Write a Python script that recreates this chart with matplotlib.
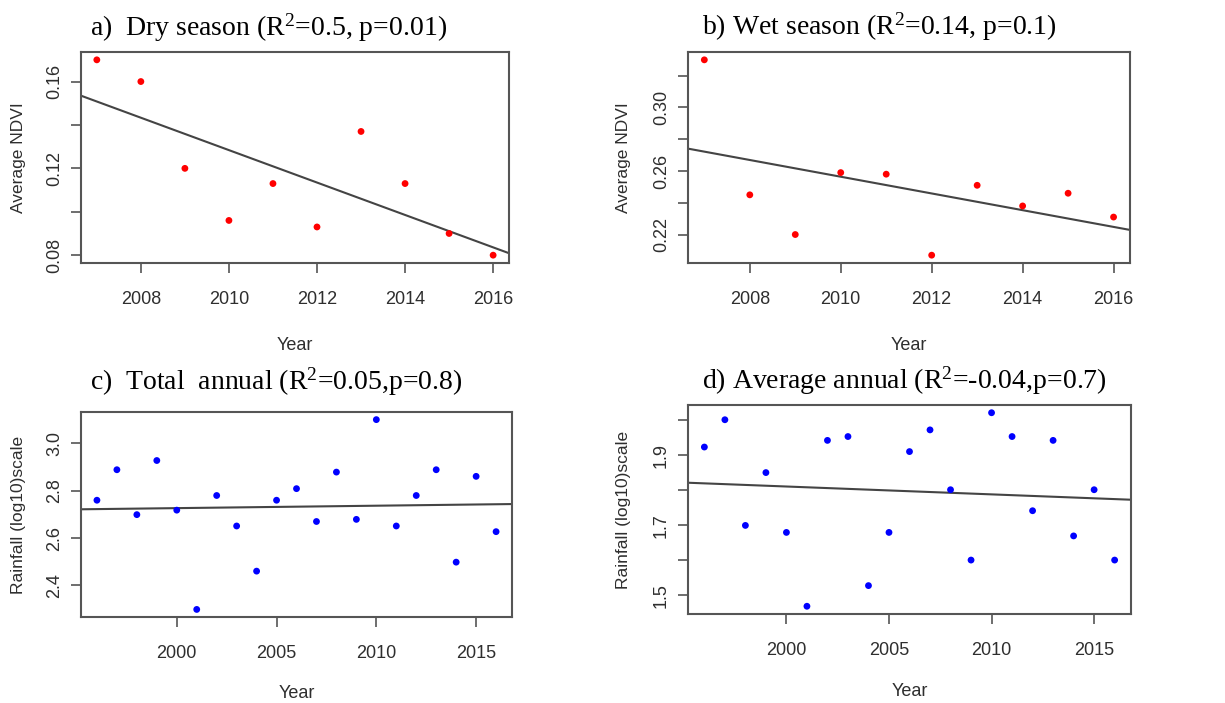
import matplotlib
matplotlib.use('Agg')
import matplotlib.pyplot as plt
import numpy as np

plt.rcParams['mathtext.fontset'] = 'custom'
plt.rcParams['mathtext.rm'] = 'Liberation Serif'
plt.rcParams['mathtext.it'] = 'Liberation Serif'

# NDVI, dry and wet season
ndvi_years = [2007, 2008, 2009, 2010, 2011, 2012, 2013, 2014, 2015, 2016]
ndvi_dry = [0.170, 0.160, 0.120, 0.096, 0.113, 0.093, 0.137, 0.113, 0.090, 0.080]
ndvi_wet = [0.330, 0.245, 0.220, 0.259, 0.258, 0.207, 0.251, 0.238, 0.246, 0.231]

# rainfall, log10 scale
rain_years = list(range(1996, 2017))
rain_total = [2.760, 2.889, 2.699, 2.928, 2.718, 2.298, 2.780, 2.651, 2.460, 2.760,
              2.809, 2.670, 2.879, 2.679, 3.101, 2.651, 2.780, 2.889, 2.498, 2.861, 2.627]
rain_avg = [1.924, 2.002, 1.700, 1.851, 1.680, 1.469, 1.943, 1.954, 1.528, 1.680,
            1.911, 1.973, 1.802, 1.601, 2.022, 1.954, 1.742, 1.943, 1.670, 1.802, 1.601]

titles = [r'a)  Dry season (R$^{2}$=0.5, p=0.01)',
          r'b) Wet season (R$^{2}$=0.14, p=0.1)',
          r'c)  Total  annual (R$^{2}$=0.05,p=0.8)',
          r'd) Average annual (R$^{2}$=-0.04,p=0.7)']
ylabels = ['Average NDVI', 'Average NDVI', 'Rainfall (log10)scale', 'Rainfall (log10)scale']

yticks_a = [0.08, 0.10, 0.12, 0.14, 0.16]
ylabs_a = ['0.08', '', '0.12', '', '0.16']
yticks_b = [0.22, 0.24, 0.26, 0.28, 0.30, 0.32]
ylabs_b = ['0.22', '', '0.26', '', '0.30', '']
yticks_c = [2.4, 2.6, 2.8, 3.0]
ylabs_c = ['2.4', '2.6', '2.8', '3.0']
yticks_d = [1.5, 1.6, 1.7, 1.8, 1.9, 2.0]
ylabs_d = ['1.5', '', '1.7', '', '1.9', '']
xticks_ndvi = [2008, 2010, 2012, 2014, 2016]
xticks_rain = [2000, 2005, 2010, 2015]

fig = plt.figure(figsize=(12.25, 7.03), dpi=100)

# axes boxes (fig fraction)
boxes = [[0.0661, 0.6259, 0.3494, 0.3001],
         [0.5616, 0.6259, 0.3608, 0.3001],
         [0.0661, 0.1223, 0.3519, 0.2916],
         [0.5616, 0.1266, 0.3617, 0.2973]]
panels = [(ndvi_years, ndvi_dry, 'red', yticks_a, ylabs_a, xticks_ndvi),
          (ndvi_years, ndvi_wet, 'red', yticks_b, ylabs_b, xticks_ndvi),
          (rain_years, rain_total, 'blue', yticks_c, ylabs_c, xticks_rain),
          (rain_years, rain_avg, 'blue', yticks_d, ylabs_d, xticks_rain)]
title_pos = [(90, 36), (702, 35), (90, 390), (702, 389)]
xlab_y = [-0.35, -0.35, -0.33, -0.33]

sans = ['Liberation Sans', 'DejaVu Sans']
grey = '#555555'
txt = '#2e2e2e'

for i, (xs, ys, col, yt, yl, xt) in enumerate(panels):
    ax = fig.add_axes(boxes[i])
    x = np.array(xs, dtype=float)
    y = np.array(ys, dtype=float)
    ax.scatter(x, y, s=24, color=col, edgecolors='none', zorder=3)
    m, b = np.polyfit(x, y, 1)
    ax.axline((x.mean(), m * x.mean() + b), slope=m, color='#444444', lw=1.5)

    # R style 4% padding
    dx = (x.max() - x.min()) * 0.04
    dy = (y.max() - y.min()) * 0.04
    ax.set_xlim(x.min() - dx, x.max() + dx)
    ax.set_ylim(y.min() - dy, y.max() + dy)

    ax.set_xticks(xt)
    ax.set_xticklabels([str(v) for v in xt], family=sans, fontsize=13, color=txt)
    ax.set_yticks(yt)
    ax.set_yticklabels(yl, family=sans, fontsize=13, color=txt,
                       rotation=90, va='center')
    ax.tick_params(axis='x', length=7, width=1.2, color=grey, pad=13)
    ax.tick_params(axis='y', length=7, width=1.2, color=grey, pad=6)
    for sp in ax.spines.values():
        sp.set_color(grey)
        sp.set_linewidth(1.5)

    ax.set_xlabel('Year', family=sans, fontsize=13, color=txt)
    ax.xaxis.set_label_coords(0.5, xlab_y[i])
    ax.set_ylabel(ylabels[i], family=sans, fontsize=12.5, color=txt)
    ax.yaxis.set_label_coords(-0.128, 0.5)

    tx, ty = title_pos[i]
    fig.text(tx / 1225, 1 - ty / 703, titles[i], family='Liberation Serif',
             fontsize=20, ha='left', va='baseline', color='black')

fig.savefig('out.png', dpi=100)
